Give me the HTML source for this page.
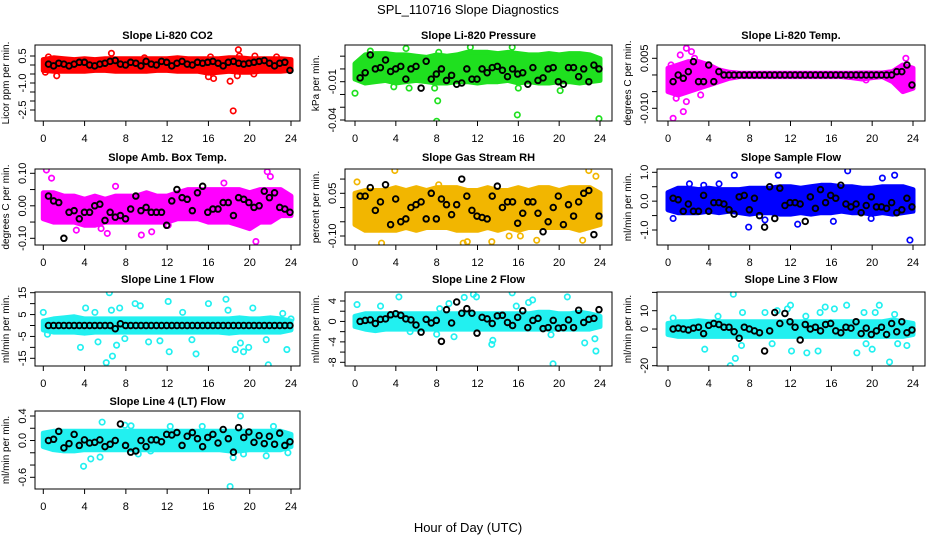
<!DOCTYPE html>
<html><head><meta charset="utf-8"><style>
body{margin:0;background:#fff}
svg{display:block;font-family:"Liberation Sans",sans-serif}
</style></head><body>
<svg id="chart" width="936" height="540" viewBox="0 0 936 540" xmlns="http://www.w3.org/2000/svg">
<rect width="936" height="540" fill="#fff"/>
<text x="468" y="14" text-anchor="middle" font-size="13">SPL_110716  Slope Diagnostics</text>
<text x="468" y="532" text-anchor="middle" font-size="13">Hour of Day (UTC)</text>
</svg>
<script>
// ---------------- data ----------------
const titles = ["Slope Li-820 CO2","Slope Li-820 Pressure","Slope Li-820 Temp.","Slope Amb. Box Temp.","Slope Gas Stream RH","Slope Sample Flow","Slope Line 1 Flow","Slope Line 2 Flow","Slope Line 3 Flow","Slope Line 4 (LT) Flow"];
const yTitles = ["Licor ppm per min.","kPa per min.","degrees C per min.","degrees C per min.","percent per min.","ml/min per min.","ml/min per min.","ml/min per min.","ml/min per min.","ml/min per min."];
const colors = ["#ff0000","#1fe01f","#ff00ff","#ff00ff","#f2b600","#0000ff","#22f0f0","#22f0f0","#22f0f0","#22f0f0"];
const xTicks = [0,4,8,12,16,20,24];
const yTicks0 = [0.5,0,-0.5,-1,-1.5,-2,-2.5];
const yTicks1 = [0.01,0,-0.01,-0.02,-0.03,-0.04];
const yTicks2 = [0.005,0,-0.005,-0.01];
const yTicks3 = [0.1,0.05,0,-0.05,-0.1];
const yTicks4 = [0.1,0.05,0,-0.05,-0.1];
const yTicks5 = [1,0.5,0,-0.5,-1];
const yTicks6 = [15,10,5,0,-5,-10,-15];
const yTicks7 = [4,2,0,-2,-4,-6,-8];
const yTicks8 = [20,10,0,-10,-20];
const yTicks9 = [0.4,0.2,0,-0.2,-0.4,-0.6];
const yLabels0 = ["0.5","-1.0","-2.5"];
const yLabels1 = ["-0.01","-0.04"];
const yLabels2 = ["0.005","-0.010"];
const yLabels3 = ["0.10","0.00","-0.10"];
const yLabels4 = ["0.05","-0.10"];
const yLabels5 = ["1.0","0.0","-1.0"];
const yLabels6 = ["15","5","-5","-15"];
const yLabels7 = ["4","0","-4","-8"];
const yLabels8 = ["10","0","-20"];
const yLabels9 = ["0.4","0.0","-0.6"];
// band (per-hour envelope of dense cloud) low/high, hours 0..24
const lo0 = [-0.3,-0.35,-0.35,-0.35,-0.35,-0.3,-0.3,-0.35,-0.35,-0.35,-0.35,-0.3,-0.3,-0.35,-0.35,-0.35,-0.45,-0.4,-0.35,-0.4,-0.4,-0.35,-0.35,-0.35,-0.3];
const hi0 = [0.3,0.4,0.35,0.3,0.35,0.3,0.35,0.35,0.35,0.35,0.35,0.35,0.35,0.4,0.35,0.35,0.35,0.35,0.4,0.4,0.35,0.35,0.35,0.35,0.3];
const lo1 = [-0.008,-0.011,-0.01,-0.009,-0.011,-0.01,-0.009,-0.01,-0.011,-0.011,-0.01,-0.01,-0.011,-0.01,-0.01,-0.009,-0.011,-0.01,-0.011,-0.011,-0.01,-0.01,-0.011,-0.01,-0.009];
const hi1 = [0.004,0.011,0.012,0.012,0.011,0.011,0.01,0.009,0.011,0.01,0.011,0.013,0.013,0.013,0.012,0.013,0.012,0.011,0.011,0.012,0.011,0.012,0.012,0.011,0.008];
const lo2 = [-0.005,-0.006,-0.005,-0.004,-0.003,-0.002,-0.001,-0.0005,-0.0005,-0.0005,-0.0005,-0.0005,-0.0005,-0.0005,-0.0005,-0.0005,-0.0005,-0.0005,-0.0008,-0.0012,-0.0008,-0.0005,-0.002,-0.005,-0.004];
const hi2 = [0.002,0.003,0.004,0.004,0.003,0.0015,0.0008,0.0005,0.0005,0.0005,0.0005,0.0005,0.0005,0.0005,0.0005,0.0005,0.0005,0.0005,0.0005,0.0006,0.0006,0.0006,0.001,0.003,0.002];
const lo3 = [-0.04,-0.05,-0.05,-0.05,-0.06,-0.06,-0.05,-0.05,-0.05,-0.05,-0.05,-0.05,-0.05,-0.04,-0.04,-0.04,-0.05,-0.05,-0.05,-0.06,-0.07,-0.05,-0.05,-0.03,-0.03];
const hi3 = [0.04,0.04,0.03,0.03,0.02,0.03,0.02,0.03,0.03,0.03,0.04,0.03,0.03,0.04,0.05,0.05,0.05,0.05,0.05,0.05,0.04,0.05,0.05,0.05,0.03];
const lo4 = [-0.06,-0.08,-0.08,-0.08,-0.08,-0.07,-0.08,-0.07,-0.07,-0.07,-0.08,-0.08,-0.08,-0.07,-0.08,-0.07,-0.08,-0.07,-0.07,-0.07,-0.07,-0.07,-0.08,-0.07,-0.06];
const hi4 = [0.05,0.06,0.06,0.06,0.07,0.06,0.07,0.06,0.07,0.07,0.07,0.06,0.06,0.07,0.06,0.06,0.07,0.06,0.07,0.07,0.06,0.07,0.07,0.07,0.05];
const lo5 = [-0.3,-0.4,-0.4,-0.4,-0.35,-0.4,-0.35,-0.4,-0.45,-0.4,-0.4,-0.45,-0.45,-0.4,-0.45,-0.4,-0.4,-0.35,-0.4,-0.4,-0.45,-0.4,-0.45,-0.4,-0.35];
const hi5 = [0.3,0.45,0.45,0.4,0.45,0.4,0.4,0.4,0.45,0.45,0.45,0.5,0.5,0.45,0.5,0.55,0.55,0.5,0.5,0.45,0.45,0.5,0.5,0.5,0.4];
const lo6 = [-2,-3,-3,-3,-3.5,-3,-3,-3,-3,-3,-3,-3,-3,-3,-3,-3,-3,-3,-3.5,-3,-3,-3,-3,-3,-2];
const hi6 = [2,3,3.5,4,3,3,3,3,3,3,3,3,3,3,3,3,3,3,3,3.5,3,3,3.5,3,2];
const lo7 = [-1,-1.5,-1.8,-1.5,-1.5,-1.5,-1.5,-1.5,-1.5,-1.5,-1.5,-1.5,-1.5,-1.5,-1.5,-1.5,-1.5,-1.5,-1.5,-1.5,-1.5,-1.5,-1.5,-1.5,-1];
const hi7 = [1,1.5,1.5,1.5,1.5,1.5,1.5,1.5,1.5,1.5,1.5,1.5,1.5,1.5,1.5,1.5,1.5,1.5,1.8,1.8,1.5,1.5,1.8,1.5,1];
const lo8 = [-3,-4,-4,-4,-4,-4,-4,-4,-4,-4,-4,-4,-4,-4,-4,-4,-4,-4,-4,-4,-4,-4,-4,-4,-3];
const hi8 = [3,4,4,4.5,4,4,4,4,4,4,4,4,4,4,4,4,4,4,4,4,4,4,5,4,3];
const lo9 = [-0.1,-0.15,-0.17,-0.17,-0.15,-0.15,-0.15,-0.15,-0.15,-0.15,-0.15,-0.15,-0.15,-0.15,-0.15,-0.15,-0.15,-0.15,-0.17,-0.17,-0.15,-0.15,-0.15,-0.15,-0.1];
const hi9 = [0.12,0.15,0.15,0.15,0.15,0.15,0.15,0.15,0.15,0.15,0.15,0.15,0.15,0.15,0.15,0.15,0.15,0.15,0.15,0.15,0.15,0.15,0.15,0.15,0.1];
// scattered outlier points [hour, value]
const pts0 = [[0.2,-0.4],[0.5,0.45],[1.3,-0.6],[6.6,0.65],[9.8,0.4],[16,-0.65],[16.2,0.45],[16.5,-0.75],[18.1,-0.9],[18.4,-2.55],[18.8,-0.6],[18.9,0.85],[19,0.5],[20.4,-0.5],[20.5,0.5],[22.6,0.45]];
const pts1 = [[0,-0.019],[3.8,-0.014],[5.3,-0.015],[7.8,-0.015],[8.1,-0.025],[8,-0.041],[15.9,-0.036],[16,-0.015],[20.1,-0.017],[23.9,-0.039],[0.3,0.004],[5,0.016],[11.3,0.017],[15.4,0.017],[1.5,0.014],[8.2,0.013]];
const pts2 = [[0.5,-0.013],[1.5,-0.011],[1.2,0.006],[1.8,0.008],[2.3,0.007],[1.8,-0.008],[3.2,-0.006],[0.3,0.003],[23.3,0.005],[3.9,0.003],[19.4,-0.0015],[0.8,-0.007],[2.6,0.005],[1.5,-0.004]];
const pts3 = [[0.3,0.11],[0.8,0.085],[3.2,-0.075],[5.6,-0.07],[6.2,-0.085],[7,0.06],[9.5,-0.09],[10.5,-0.08],[12.1,-0.06],[17.5,0.07],[20.6,-0.11],[21.7,0.105],[22,0.09]];
const pts4 = [[0.2,0.09],[2.6,-0.125],[3.9,0.13],[8.2,0.08],[10.6,-0.125],[11,-0.12],[13.4,-0.12],[15.1,-0.1],[16.2,-0.1],[17.8,-0.115],[22.3,-0.115],[22.9,0.13],[23.6,0.11]];
const pts5 = [[0.5,-0.6],[2.1,0.6],[3.5,0.55],[5,0.6],[6.5,0.9],[7.9,-0.9],[9.5,-0.65],[10.8,0.9],[12.7,-0.8],[16.2,-0.7],[17.6,1.05],[19.9,-0.6],[21,0.8],[22.2,0.9],[23.7,-1.35]];
const pts6 = [[0,6],[0.4,-4],[3.6,-10],[4.1,8],[5,6],[5.3,-7.5],[6.1,-17],[6.4,15],[6.6,7],[6.7,-14],[7.1,-9],[7.4,8],[7.9,-6],[8.9,10],[9.4,9],[10.2,-7.5],[11.3,-7],[12.1,11],[12.2,-12],[13.5,6],[14.4,-6.5],[14.8,-13],[16,10],[17.7,12],[17.9,7],[18.6,-11],[19.1,-8],[19.4,-12],[19.9,-10],[20.3,8],[21.6,-6.5],[21.8,-18],[23.2,5.5],[23.6,-11],[24,3]];
const pts7 = [[0.2,3.3],[2.5,3],[4.3,4.8],[5.4,-2],[8,-2.5],[8.3,2.5],[9.2,3.5],[9.7,-3],[10.7,4.7],[11.6,5.3],[11.9,4.8],[13.4,-4.5],[13.5,-3.7],[15.4,5.6],[15.8,3],[17,3.7],[17.4,4.2],[19.2,-2.6],[19.4,-8.3],[20.8,4.8],[22.5,-4.2],[23.5,-3.4],[23.6,-5.8]];
const pts8 = [[0.5,6],[3.6,-11],[4.9,7],[6.1,-20],[6.4,19],[6.6,-16],[7.2,-9],[7.3,9],[9.5,9],[10.2,-8],[10.7,10],[11.7,11],[12,13],[12.1,-12],[13.5,7],[13.6,-13],[14.7,-12],[14.9,9],[15.4,12],[16.3,11],[17.5,13],[18.5,-13],[19.2,9],[19.4,-8],[20,-11],[20.3,9],[20.7,13],[21.7,-18],[22.2,8],[22.5,-8],[23.4,-9]];
const pts9 = [[3.9,-0.42],[4.6,-0.3],[5.5,-0.27],[5.7,0.3],[7.9,0.25],[8.5,0.24],[9.2,-0.22],[10.4,-0.17],[12.3,0.23],[15.4,0.23],[18.1,-0.75],[18.4,-0.28],[19.1,0.4],[19.4,-0.22],[21.6,-0.25],[22.3,0.23],[23.7,-0.2]];
// half-hourly black points (hours 0.5 .. 23.9)
const blk0 = [0.05,-0.05,0.1,0.05,-0.05,0.05,0.15,0.15,0,-0.05,0.05,0.1,0.2,0.25,0.05,0,0.15,0.1,-0.05,0.2,0.05,0,0.2,0.15,-0.05,0.1,0.2,0.05,0,0.15,0.1,0.15,0.2,0.1,-0.05,0.15,0.2,0.1,0.05,0.1,0.15,0.2,0.25,0.1,-0.05,0.1,0.15,-0.3];
const blk1 = [-0.007,-0.003,0.011,0,0.001,0.007,-0.002,0,0.002,-0.008,0,0.002,-0.015,0.006,-0.008,-0.004,0,-0.009,-0.005,-0.012,-0.011,0,-0.008,-0.008,0,-0.003,0.001,0.002,-0.001,-0.006,0,-0.004,-0.003,-0.012,0.001,-0.009,-0.007,0,0.001,-0.01,-0.012,0.001,0.001,-0.006,0,-0.01,0.003,0];
const blk2 = [-0.002,0,-0.001,0.001,0.004,-0.002,-0.002,0.003,-0.002,0.001,0,0,0,0,0,0,0,0,0,0,0,0,0,0,0,0,0,0,0,0,0,0,0,0,0,0,0,0,0,0,0,0,0,0,0.001,0.001,0.003,-0.003];
const blk3 = [0.03,0.015,0.01,-0.1,-0.02,-0.015,-0.04,-0.02,-0.02,0,0.005,-0.045,-0.02,-0.035,-0.03,-0.04,-0.01,0.03,-0.015,-0.005,-0.02,-0.02,-0.02,-0.06,0.015,0.05,0.025,0.02,-0.015,0.04,0.06,-0.02,-0.01,-0.01,0.01,0.01,-0.03,0.025,0.02,0.01,-0.005,0,0.045,0.025,0.04,-0.005,-0.01,-0.02];
const blk4 = [0.04,0.04,0.07,-0.01,0.02,0.08,-0.06,0.03,-0.05,-0.04,0.0,0.01,0.02,-0.04,0.05,-0.04,0.03,0.01,-0.025,0.01,0.1,0.04,-0.01,-0.03,-0.035,-0.04,0.04,0.075,0.0,0.02,0.02,-0.055,-0.02,0.02,0.02,-0.02,-0.085,-0.05,0.0,0.04,-0.06,0.01,-0.03,0.02,0.05,0.06,-0.095,-0.03];
const blk5 = [0.1,0.05,-0.35,-0.1,-0.35,-0.35,0.2,-0.35,-0.05,-0.05,-0.1,-0.3,-0.45,0.15,0.2,-0.3,0.1,-0.5,-0.9,0.5,-0.6,0.45,-0.15,-0.05,-0.05,-0.1,-0.7,0.15,-0.25,0.4,-0.05,0.2,0.1,0.55,-0.1,-0.2,-0.1,-0.4,-0.15,0.15,-0.2,-0.2,-0.25,-0.05,-0.4,-0.3,0.1,-0.2];
const blk6 = [0,0,0,0,0,0,0,0,0,0,0,0,0,-1.5,0.8,0,0,0,0,0,0,0,0,0,0,0,0,0,0,0,0,0,0,0,0,0,0,0,0,0,0,0,0,0,0,0,0,0];
const blk7 = [0,0.2,0.3,-0.4,0.4,0.5,1.3,1.5,1.2,0.5,0.3,-0.7,-2.1,0.4,-0.3,0.2,-3.9,2.3,-0.3,3.8,1.6,2.5,1.6,-2.3,0.8,0.5,-0.4,1.1,1.2,-0.2,-0.8,0.8,2.1,-1.2,0.2,0.6,-1.4,-1.2,0.2,-1.3,-1.2,0.3,-1.2,2.2,-0.2,0.4,0.6,2.3];
const blk8 = [0,0.5,0,-0.5,0.5,1,-2.5,2,3,2.5,1,1,-1.5,-5,1,0,-1,-2,-12,-1,9,3,8.5,4,1,-6,2.5,0,1,-1,2.5,3,-1,-2,1,0.5,4,-2.5,0.5,-3,-1,1,-3,3,-1.5,4,-2,-0.5];
const blk9 = [0,0.02,0.15,-0.12,-0.05,0.1,-0.08,0.01,-0.04,-0.03,0.01,-0.1,-0.06,0,0.27,-0.08,-0.19,-0.17,0,-0.1,0.01,0.01,-0.02,0.1,0.09,0.13,-0.08,0.07,0.13,0.03,-0.1,0.05,0.1,-0.04,0.18,0.03,-0.19,0.21,0.05,0.14,-0.03,0.08,-0.05,0.07,-0.06,0.12,-0.08,-0.02];

// ---------------- layout ----------------
const cols = [{L:35,R:300,x0:43.3,x24:291},{L:345,R:612,x0:355,x24:600},{L:657,R:925,x0:668,x24:913}];
const rows = [{T:45,B:121,title:39},{T:169,B:245,title:161},{T:292,B:366,title:283},{T:411,B:489,title:405}];
const ycal = [[0.5,56,-2.5,110],[-0.01,81.7,-0.04,120],[0.005,58.3,-0.01,108.3],[0.1,173.3,-0.1,238.3],[0.05,193.3,-0.1,236],[1,172.3,-1,230],[15,292.7,-15,358.3],[4,301,-8,362.3],[10,310.7,-20,365.7],[0.4,416,-0.6,477.3]];
const yTicksAll=[yTicks0,yTicks1,yTicks2,yTicks3,yTicks4,yTicks5,yTicks6,yTicks7,yTicks8,yTicks9];
const yLabelsAll=[yLabels0,yLabels1,yLabels2,yLabels3,yLabels4,yLabels5,yLabels6,yLabels7,yLabels8,yLabels9];
const loAll=[lo0,lo1,lo2,lo3,lo4,lo5,lo6,lo7,lo8,lo9];
const hiAll=[hi0,hi1,hi2,hi3,hi4,hi5,hi6,hi7,hi8,hi9];
const ptsAll=[pts0,pts1,pts2,pts3,pts4,pts5,pts6,pts7,pts8,pts9];
const blkAll=[blk0,blk1,blk2,blk3,blk4,blk5,blk6,blk7,blk8,blk9];

const svg=document.getElementById('chart');
const NS='http://www.w3.org/2000/svg';
function mk(tag,attrs,parent){const e=document.createElementNS(NS,tag);for(const k in attrs)e.setAttribute(k,attrs[k]);(parent||svg).appendChild(e);return e;}

for(let p=0;p<10;p++){
  const c=cols[p%3], r=rows[Math.floor(p/3)];
  const g=mk('g',{});
  
  
  const xs=h=>c.x0+(h/24)*(c.x24-c.x0);
  const k=ycal[p];
  const ys=v=>k[1]+(v-k[0])*(k[3]-k[1])/(k[2]-k[0]);
  const cx=(c.L+c.R)/2;
  const t=mk('text',{x:cx,y:r.title,'text-anchor':'middle','font-size':'11','font-weight':'bold'},g);
  t.textContent=titles[p];
  
  
  const clip=mk('clipPath',{id:'clip'+p},g);
  mk('rect',{x:c.L,y:r.T,width:c.R-c.L,height:r.B-r.T},clip);
  const pg=mk('g',{'clip-path':'url(#clip'+p+')'},g);
  let d='';
  hiAll[p].forEach((v,i)=>{d+=(i?'L':'M')+xs(i).toFixed(1)+','+ys(v).toFixed(1);});
  for(let i=loAll[p].length-1;i>=0;i--)d+='L'+xs(i).toFixed(1)+','+ys(loAll[p][i]).toFixed(1);
  const band=mk('path',{d:d+'Z',fill:colors[p],stroke:colors[p],'stroke-width':'5','stroke-linejoin':'round'},pg);
  
  
  ptsAll[p].forEach(q=>{
    const ci=mk('circle',{cx:xs(q[0]),cy:ys(q[1]),r:2.7,fill:'none',stroke:colors[p],'stroke-width':'1.7'},pg);
    
    
  });
  const b=blkAll[p], n=b.length;
  b.forEach((v,i)=>{
    const h=0.5+i*23.4/(n-1);
    const ci=mk('circle',{cx:xs(h),cy:ys(v),r:2.8,fill:'none',stroke:'#000','stroke-width':'1.9'},pg);
    
    
  });
  const box=mk('rect',{x:c.L,y:r.T,width:c.R-c.L,height:r.B-r.T,fill:'none',stroke:'#000','stroke-width':'1'},g);
  
  
  xTicks.forEach(h=>{
    mk('line',{x1:xs(h),x2:xs(h),y1:r.B,y2:r.B+5,stroke:'#000'},g);
    const tl=mk('text',{x:xs(h),y:r.B+21,'text-anchor':'middle','font-size':'11'},g);
    tl.textContent=h;
    
    
  });
  yTicksAll[p].forEach(v=>{mk('line',{x1:c.L-5,x2:c.L,y1:ys(v),y2:ys(v),stroke:'#000'},g);});
  yLabelsAll[p].forEach(s=>{
    const v=parseFloat(s), yy=ys(v), xx=c.L-9;
    const tl=mk('text',{x:xx,y:yy,'text-anchor':'middle','font-size':'11',transform:'rotate(-90 '+xx+' '+yy+')'},g);
    tl.textContent=s;
    
    
  });
  const yx=c.L-26, yy=(r.T+r.B)/2;
  const yt=mk('text',{x:yx,y:yy,'text-anchor':'middle','font-size':'10',transform:'rotate(-90 '+yx+' '+yy+')'},g);
  yt.textContent=yTitles[p];
  
  
}
</script>
</body></html>
